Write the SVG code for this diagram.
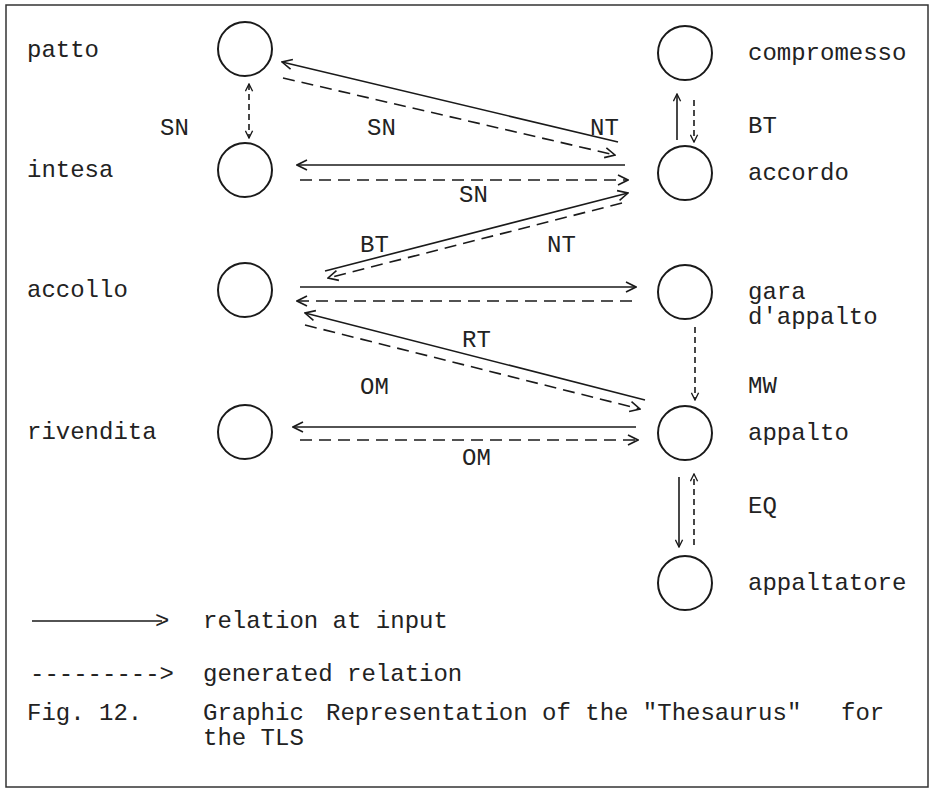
<svg xmlns="http://www.w3.org/2000/svg" width="931" height="794" viewBox="0 0 931 794">
<style>
text{font-family:"Liberation Mono","Courier New",monospace;font-size:24px;fill:#222}
circle{fill:none;stroke:#1a1a1a;stroke-width:2}
.s{stroke:#1a1a1a;stroke-width:1.6;fill:none}
.d{stroke:#1a1a1a;stroke-width:1.6;fill:none;stroke-dasharray:12 7}
.ds{stroke:#1a1a1a;stroke-width:1.6;fill:none;stroke-dasharray:6 4}
</style>
<defs>
<marker id="ah" viewBox="0 0 12 12" refX="11" refY="6" markerWidth="12" markerHeight="12" markerUnits="userSpaceOnUse" orient="auto-start-reverse">
<path d="M1,1 L11,6 L1,11" fill="none" stroke="#1a1a1a" stroke-width="1.6"/>
</marker>
<marker id="as" viewBox="0 0 10 10" refX="9" refY="5" markerWidth="9" markerHeight="9" markerUnits="userSpaceOnUse" orient="auto-start-reverse">
<path d="M1,1 L9,5 L1,9" fill="none" stroke="#1a1a1a" stroke-width="1.5"/>
</marker>
</defs>
<rect x="6" y="5" width="922" height="782" fill="none" stroke="#333" stroke-width="1.5"/>

<g id="patto"><circle cx="245" cy="49" r="27"/><text x="27" y="57">patto</text></g>
<g id="intesa"><circle cx="245" cy="170" r="27"/><text x="27" y="177">intesa</text></g>
<g id="accollo"><circle cx="245" cy="290" r="27"/><text x="27" y="297">accollo</text></g>
<g id="rivendita"><circle cx="245" cy="432" r="27"/><text x="27" y="439">rivendita</text></g>
<g id="compromesso"><circle cx="685" cy="53" r="27"/><text x="748" y="60">compromesso</text></g>
<g id="accordo"><circle cx="685" cy="173" r="27"/><text x="748" y="180">accordo</text></g>
<g id="gara"><circle cx="685" cy="292" r="27"/><text x="748" y="299">gara</text><text x="748" y="324">d'appalto</text></g>
<g id="appalto"><circle cx="685" cy="433" r="27"/><text x="748" y="440">appalto</text></g>
<g id="appaltatore"><circle cx="685" cy="583" r="27"/><text x="748" y="590">appaltatore</text></g>

<g id="connectors">
<line class="ds" x1="249" y1="84" x2="249" y2="138" marker-start="url(#as)" marker-end="url(#as)"/>
<line class="s" x1="618" y1="142" x2="282" y2="62" marker-end="url(#ah)"/>
<line class="d" x1="283" y1="78" x2="615" y2="155" marker-end="url(#ah)"/>
<line class="s" x1="625" y1="165" x2="297" y2="165" marker-end="url(#ah)"/>
<line class="d" x1="300" y1="180" x2="628" y2="180" marker-end="url(#ah)"/>
<line class="s" x1="325" y1="271" x2="628" y2="193" marker-end="url(#ah)"/>
<line class="d" x1="622" y1="203" x2="328" y2="278" marker-end="url(#ah)"/>
<line class="s" x1="300" y1="287" x2="636" y2="287" marker-end="url(#ah)"/>
<line class="d" x1="632" y1="301" x2="297" y2="301" marker-end="url(#ah)"/>
<line class="s" x1="645" y1="400" x2="305" y2="313" marker-end="url(#ah)"/>
<line class="d" x1="305" y1="325" x2="640" y2="409" marker-end="url(#ah)"/>
<line class="s" x1="636" y1="427" x2="293" y2="427" marker-end="url(#ah)"/>
<line class="d" x1="300" y1="440" x2="638" y2="440" marker-end="url(#ah)"/>
<line class="s" x1="677" y1="140" x2="677" y2="94" marker-end="url(#as)"/>
<line class="ds" x1="694" y1="100" x2="694" y2="142" marker-end="url(#as)"/>
<line class="ds" x1="695" y1="327" x2="695" y2="400" marker-end="url(#as)"/>
<line class="s" x1="679" y1="477" x2="679" y2="547" marker-end="url(#as)"/>
<line class="ds" x1="694" y1="545" x2="694" y2="474" marker-end="url(#as)"/>
</g>

<g id="labels">
<text x="160" y="135">SN</text>
<text x="367" y="135">SN</text>
<text x="590" y="135">NT</text>
<text x="748" y="133">BT</text>
<text x="459" y="202">SN</text>
<text x="360" y="252">BT</text>
<text x="547" y="252">NT</text>
<text x="462" y="347">RT</text>
<text x="360" y="394">OM</text>
<text x="748" y="393">MW</text>
<text x="462" y="465">OM</text>
<text x="748" y="513">EQ</text>
</g>

<g id="legend">
<line class="s" x1="32" y1="621" x2="162" y2="621"/>
<text x="155" y="628">&gt;</text>
<text x="203" y="628">relation at input</text>
<text x="30" y="681">---------&gt;</text>
<text x="203" y="681">generated relation</text>
</g>

<g id="caption">
<text x="27" y="720">Fig. 12.</text>
<text x="203" y="720">Graphic</text>
<text x="326" y="720">Representation of the "Thesaurus"</text>
<text x="841" y="720">for</text>
<text x="203" y="745">the TLS</text>
</g>
</svg>
